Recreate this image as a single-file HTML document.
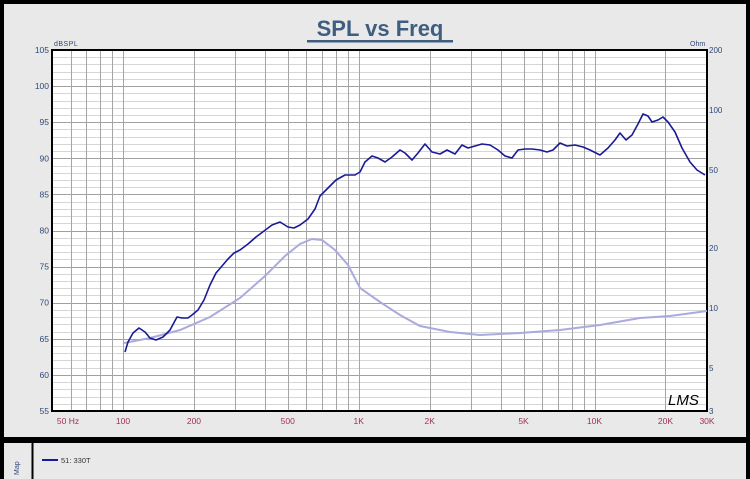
<!DOCTYPE html>
<html><head><meta charset="utf-8"><style>
html,body{margin:0;padding:0;background:#e9e9e9}
svg{display:block}
text{font-family:"Liberation Sans",sans-serif}
</style></head><body>
<svg width="750" height="479" viewBox="0 0 750 479" xmlns="http://www.w3.org/2000/svg">
<rect x="0" y="0" width="750" height="479" fill="#e9e9e9"/>
<rect x="2" y="2" width="746" height="437" fill="none" stroke="#000" stroke-width="4"/>
<rect x="0" y="439" width="750" height="4" fill="#000"/>
<line x1="32.5" y1="443" x2="32.5" y2="479" stroke="#000" stroke-width="2"/>
<rect x="0" y="440" width="4" height="39" fill="#000"/>
<rect x="746" y="440" width="4" height="39" fill="#000"/>
<text x="380" y="36" text-anchor="middle" font-size="22" font-weight="bold" fill="#3f5e7f">SPL vs Freq</text>
<rect x="307" y="40" width="146" height="2.5" fill="#3f5e7f"/>
<rect x="52" y="50" width="655" height="361" fill="#fff"/>
<g stroke-width="1" id="hg"></g>
<g id="grid"></g>
<rect x="52" y="50" width="655" height="361" fill="none" stroke="#000" stroke-width="2"/>
<g font-size="8.5" fill="#2e4a78" text-anchor="end" id="ylab"></g>
<text x="54" y="46" font-size="7" fill="#2e4a78" letter-spacing="0.5">dBSPL</text>
<text x="690" y="46" font-size="7" fill="#2e4a78">Ohm</text>
<g font-size="8" fill="#2e4a78" id="rlab"></g>
<g font-size="8.5" fill="#a0305a" text-anchor="middle" id="xlab"></g>
<polyline fill="none" stroke="#aaaadd" stroke-width="2" points="124,343 150,338 180,330 210,317 240,298 265,276 285,256 300,244 312,239 322,240 335,250 348,265 360,288 380,302 400,315 420,326 450,332 480,335 520,333 560,330 600,325 640,318 670,316 707,311"/>
<polyline fill="none" stroke="#1a1a96" stroke-width="1.6" stroke-linejoin="round" points="125,352 128,342 133,333 139,328 145,332 150,338 156,340 163,337 170,330 177,317 182,318 188,318 192,315 198,310 204,300 210,285 216,273 222,266 228,259 234,253 240,250 248,244 256,237 264,231 272,225 280,222 288,227 294,228 300,225 308,219 315,209 320,196 328,188 336,180 345,175 355,175 360,172 365,162 372,156 378,158 385,162 392,157 400,150 405,153 412,160 418,153 425,144 432,152 440,154 447,150 455,154 462,145 468,148 475,146 482,144 490,145 498,150 505,156 512,158 518,150 525,149 532,149 540,150 547,152 553,150 560,143 567,146 575,145 583,147 590,150 600,155 608,148 615,140 620,133 626,140 632,135 638,124 643,114 648,116 652,122 658,120 663,117 668,122 675,132 682,148 690,162 697,170 705,175"/>
<text x="668" y="405" font-size="15" font-style="italic" font-family="Liberation Serif,serif" fill="#000">LMS</text>
<line x1="42" y1="460" x2="58" y2="460" stroke="#1a1a96" stroke-width="2"/>
<text x="61" y="463" font-size="7.5" fill="#333">51: 330T</text>
<text x="0" y="0" font-size="7" fill="#2e4a78" transform="translate(19,475) rotate(-90)">Map</text>
<script>
var ns="http://www.w3.org/2000/svg";
function el(p,t,a,txt){var e=document.createElementNS(ns,t);for(var k in a)e.setAttribute(k,a[k]);if(txt!=null)e.textContent=txt;document.getElementById(p).appendChild(e);}
var L=52,R=707,T=50,B=411;
function yd(d){return B-(d-55)*(B-T)/50;}
function xf(f){return L+Math.log10(f/50)*(R-L)/Math.log10(600);}
for(var d=56;d<105;d++){var y=Math.round(yd(d))+0.5;el("hg","line",{x1:L,x2:R,y1:y,y2:y,stroke:d%5==0?"#a0a0a0":"#d6d6d6"});}
var fs=[60,70,80,90,100,200,300,400,500,600,700,800,900,1000,2000,3000,4000,5000,6000,7000,8000,9000,10000,20000];
fs.forEach(function(f){var x=Math.round(xf(f))+0.5;el("grid","line",{x1:x,x2:x,y1:T,y2:B,stroke:"#a5a5a5"});});
for(var d=55;d<=105;d+=5){el("ylab","text",{x:49,y:yd(d)+3},d);}
var oh=[[200,50],[100,110],[50,170],[20,248],[10,308],[5,368],[3,411]];
oh.forEach(function(o){el("rlab","text",{x:709,y:o[1]+3},o[0]);});
var xl=[[50,"50  Hz"],[100,"100"],[200,"200"],[500,"500"],[1000,"1K"],[2000,"2K"],[5000,"5K"],[10000,"10K"],[20000,"20K"],[30000,"30K"]];
xl.forEach(function(o){var x=xf(o[0]);if(o[0]==50)x+=16;el("xlab","text",{x:x,y:424},o[1]);});
</script>
</svg>
</body></html>
